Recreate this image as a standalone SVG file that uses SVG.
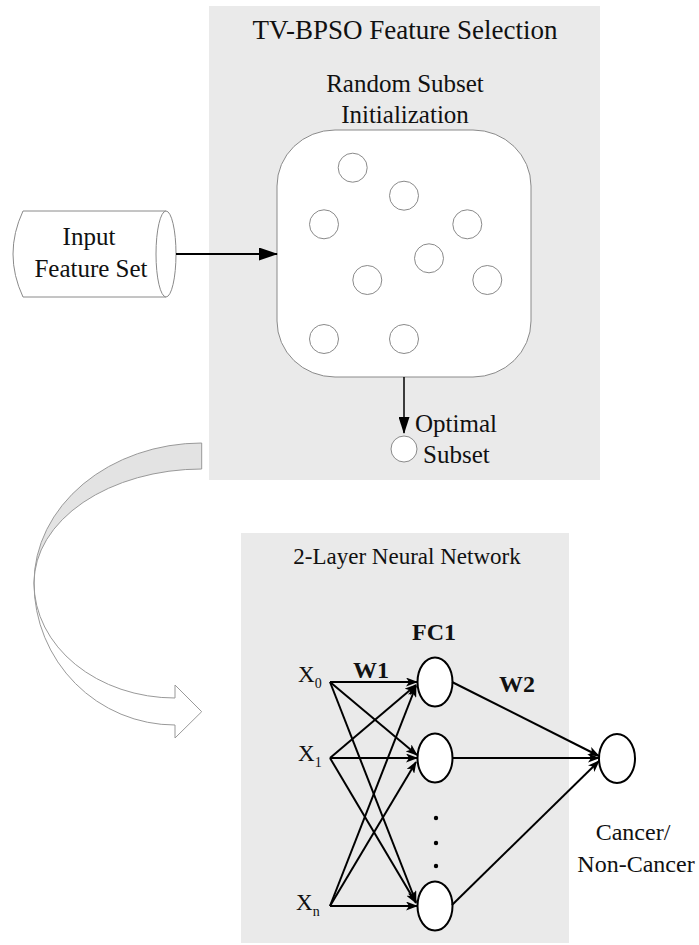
<svg xmlns="http://www.w3.org/2000/svg" width="699" height="945" viewBox="0 0 699 945">
<style>
.panel{fill:#eaeaea;stroke:none}
.t{font-family:"Liberation Serif","Times New Roman",serif;fill:#111}
.b{font-weight:bold}
.thin{fill:#fff;stroke:#8a8a8a;stroke-width:1}
.node{fill:#fff;stroke:#000;stroke-width:2}
.nn{stroke:#000;stroke-width:2;fill:none;marker-end:url(#ah)}
</style>
<defs>
<marker id="ah" markerUnits="userSpaceOnUse" markerWidth="12" markerHeight="9" refX="11" refY="4.5" orient="auto">
<path d="M0,0 L12,4.5 L0,9 L3,4.5 z" fill="#000"/>
</marker>
<marker id="ahBig" markerUnits="userSpaceOnUse" markerWidth="19" markerHeight="13" refX="18" refY="6.5" orient="auto">
<path d="M0,0 L19,6.5 L0,13 z" fill="#000"/>
</marker>
<marker id="ahMid" markerUnits="userSpaceOnUse" markerWidth="11" markerHeight="17" refX="5.5" refY="16" orient="0">
<path d="M0,0 L11,0 L5.5,17 z" fill="#000"/>
</marker>
</defs>

<g id="panel-tvbpso">
<rect class="panel" x="209" y="6" width="391" height="474"/>
<text class="t" x="405" y="39" font-size="27" text-anchor="middle">TV-BPSO Feature Selection</text>
</g>

<g id="panel-nn">
<rect class="panel" x="241" y="533" width="328" height="410"/>
<text class="t" x="407" y="564" font-size="23" text-anchor="middle">2-Layer Neural Network</text>
</g>

<g id="curved-arrow">
<path d="M201.7,443 A168,140 0 0 0 34,583 A168,114 0 0 1 201.7,469 Z" fill="#e3e3e3" stroke="#999" stroke-width="1"/>
<path d="M34,583 A141,142 0 0 0 175,725 L175,738 L201.7,711.7 L175,685 L175,698 A141,115 0 0 1 34,583 Z" fill="#fff" stroke="#999" stroke-width="1"/>
</g>

<g id="input-feature-set">
<path class="thin" d="M23,211 L166,211 A10,43 0 0 1 166,297 L23,297 Q3,254 23,211 Z"/>
<path class="thin" d="M166,211 A10,43 0 0 0 166,297" fill="none"/>
<text class="t" x="89" y="245" font-size="25" text-anchor="middle">Input</text>
<text class="t" x="91" y="277" font-size="25" text-anchor="middle">Feature Set</text>
</g>

<g id="random-subset">
<text class="t" x="405" y="92" font-size="25" text-anchor="middle">Random Subset</text>
<text class="t" x="405" y="123" font-size="25" text-anchor="middle">Initialization</text>
<rect class="thin" x="277" y="130" width="254" height="247" rx="58" ry="56"/>
<g class="thin">
<circle cx="352.7" cy="167.7" r="14.5"/>
<circle cx="404" cy="195.7" r="14.5"/>
<circle cx="324" cy="224.3" r="14.5"/>
<circle cx="467.3" cy="224.3" r="14.5"/>
<circle cx="429" cy="258.3" r="14.5"/>
<circle cx="367.3" cy="280" r="14.5"/>
<circle cx="487.3" cy="280" r="14.5"/>
<circle cx="324" cy="339" r="14.5"/>
<circle cx="404" cy="339" r="14.5"/>
</g>
</g>

<g id="optimal-subset">
<circle class="thin" cx="404" cy="449" r="13"/>
<text class="t" x="415" y="432" font-size="25">Optimal</text>
<text class="t" x="423" y="463" font-size="25">Subset</text>
</g>

<g id="inputs">
<text class="t" x="298" y="682" font-size="23">X<tspan font-size="14" dy="6">0</tspan></text>
<text class="t" x="298" y="761" font-size="23">X<tspan font-size="14" dy="6">1</tspan></text>
<text class="t" x="296" y="910" font-size="23">X<tspan font-size="14" dy="6">n</tspan></text>
</g>

<g id="fc1">
<text class="t b" x="434" y="640" font-size="24" text-anchor="middle">FC1</text>
<ellipse class="node" cx="435" cy="682" rx="17.5" ry="24.5"/>
<ellipse class="node" cx="435" cy="758" rx="17.5" ry="24.5"/>
<ellipse class="node" cx="435" cy="906" rx="17.5" ry="24.5"/>
<circle cx="436" cy="818" r="2.2" fill="#000"/>
<circle cx="436" cy="843" r="2.2" fill="#000"/>
<circle cx="436" cy="866" r="2.2" fill="#000"/>
</g>

<g id="output">
<ellipse class="node" cx="617" cy="758.5" rx="18" ry="24.5"/>
<text class="t" x="633" y="840" font-size="24" text-anchor="middle">Cancer/</text>
<text class="t" x="636" y="872" font-size="24" text-anchor="middle">Non-Cancer</text>
</g>

<g id="labels">
<text class="t b" x="353" y="678" font-size="24">W1</text>
<text class="t b" x="499" y="692" font-size="24">W2</text>
</g>

<g id="connectors">
<line x1="176" y1="254" x2="277" y2="254" stroke="#000" stroke-width="2" marker-end="url(#ahBig)"/>
<line x1="404" y1="377" x2="404" y2="433" stroke="#000" stroke-width="1.5" marker-end="url(#ahMid)"/>
<line class="nn" x1="330" y1="682" x2="417" y2="682"/>
<line class="nn" x1="330" y1="682" x2="417" y2="755"/>
<line class="nn" x1="330" y1="682" x2="416" y2="902"/>
<line class="nn" x1="330" y1="758" x2="416" y2="685"/>
<line class="nn" x1="330" y1="758" x2="417" y2="758"/>
<line class="nn" x1="330" y1="758" x2="416" y2="903"/>
<line class="nn" x1="330" y1="906" x2="416" y2="686"/>
<line class="nn" x1="330" y1="906" x2="416" y2="762"/>
<line class="nn" x1="330" y1="906" x2="417" y2="906"/>
<line class="nn" x1="452" y1="682" x2="599" y2="756"/>
<line class="nn" x1="452" y1="758" x2="599" y2="758"/>
<line class="nn" x1="452" y1="905" x2="599" y2="761"/>
</g>
</svg>
